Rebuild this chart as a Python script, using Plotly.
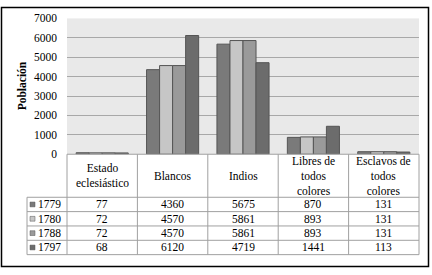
import plotly.graph_objects as go

categories = ["Estado eclesiástico", "Blancos", "Indios", "Libres de todos colores", "Esclavos de todos colores"]
header_labels = ["Estado<br>eclesiástico", "Blancos", "Indios", "Libres de<br>todos<br>colores", "Esclavos de<br>todos<br>colores"]
years = ["1779", "1780", "1788", "1797"]
v1779 = [77, 4360, 5675, 870, 131]
v1780 = [72, 4570, 5861, 893, 131]
v1788 = [72, 4570, 5861, 893, 131]
v1797 = [68, 6120, 4719, 1441, 113]
series = [v1779, v1780, v1788, v1797]
colors = ["#7a7a7a", "#c6c6c6", "#9a9a9a", "#6c6c6c"]
y_ticks = [0, 1000, 2000, 3000, 4000, 5000, 6000, 7000]

W, H = 432, 275
def px(x):
    return x / W
def py(y):
    return 1 - y / H

PL, PR, PT, PB = 67, 419, 13, 155
FONT = "Liberation Serif, DejaVu Serif, Times New Roman, serif"
FS = 11.5

fig = go.Figure()
for yr, vals, col in zip(years, series, colors):
    fig.add_trace(go.Bar(
        x=categories, y=vals, name=yr,
        marker=dict(color=col, line=dict(color="#555555", width=1)),
    ))

fig.update_layout(
    width=W, height=H, autosize=False,
    margin=dict(l=0, r=0, t=0, b=0),
    paper_bgcolor="white", plot_bgcolor="#e9e9e9",
    barmode="group", bargap=0.26, bargroupgap=0,
    showlegend=False,
    font=dict(family=FONT, size=FS, color="black"),
    xaxis=dict(domain=[px(PL), px(PR)], showticklabels=False, ticks="",
               showgrid=False, zeroline=False, showline=False, fixedrange=True),
    yaxis=dict(domain=[py(PB), py(PT)], range=[0, 7000], tickvals=y_ticks,
               showgrid=True, gridcolor="#a8a8a8", gridwidth=1, zeroline=False,
               showline=False, ticks="", ticklabelstandoff=9,
               tickfont=dict(family=FONT, size=FS, color="black"), fixedrange=True),
)

shapes = []
line_col = "#a0a0a0"
col_w = (PR - PL) / len(categories)
row_tops = [200, 215, 230, 245, 260]
for k in range(len(categories) + 1):
    x = PL + k * col_w
    shapes.append(dict(type="line", xref="paper", yref="paper", x0=px(x), x1=px(x),
                       y0=py(PB), y1=py(row_tops[-1]), line=dict(color=line_col, width=1)))
shapes.append(dict(type="line", xref="paper", yref="paper", x0=px(27), x1=px(27),
                   y0=py(row_tops[0]), y1=py(row_tops[-1]), line=dict(color=line_col, width=1)))
for y in row_tops:
    shapes.append(dict(type="line", xref="paper", yref="paper", x0=px(27), x1=px(PR),
                       y0=py(y), y1=py(y), line=dict(color=line_col, width=1)))
shapes.append(dict(type="line", xref="paper", yref="paper", x0=px(PL), x1=px(PR),
                   y0=py(PB), y1=py(PB), line=dict(color=line_col, width=1)))
for i, col in enumerate(colors):
    yc = (row_tops[i] + row_tops[i + 1]) / 2
    shapes.append(dict(type="rect", xref="paper", yref="paper", x0=px(30), x1=px(35),
                       y0=py(yc + 2.5), y1=py(yc - 2.5), fillcolor=col,
                       line=dict(color="#555555", width=0.5)))
shapes.append(dict(type="rect", xref="paper", yref="paper", x0=px(1.5), x1=px(428.5),
                   y0=py(272.5), y1=py(1.5), line=dict(color="black", width=1.5)))

ann = []
for j, lab in enumerate(header_labels):
    ann.append(dict(xref="paper", yref="paper", x=px(PL + (j + 0.5) * col_w), y=py((PB + row_tops[0]) / 2),
                    text=lab, showarrow=False, xanchor="center", yanchor="middle",
                    font=dict(family=FONT, size=FS)))
for i, (yr, vals) in enumerate(zip(years, series)):
    yc = (row_tops[i] + row_tops[i + 1]) / 2
    ann.append(dict(xref="paper", yref="paper", x=px(36), y=py(yc), text=yr, showarrow=False,
                    xanchor="left", yanchor="middle", font=dict(family=FONT, size=FS)))
    for j, v in enumerate(vals):
        ann.append(dict(xref="paper", yref="paper", x=px(PL + (j + 0.5) * col_w), y=py(yc),
                        text=str(v), showarrow=False, xanchor="center", yanchor="middle",
                        font=dict(family=FONT, size=FS)))
ann.append(dict(xref="paper", yref="paper", x=px(22), y=py((PT + PB) / 2), text="<b>Población</b>",
                textangle=-90, showarrow=False, xanchor="center", yanchor="middle",
                font=dict(family=FONT, size=FS)))

fig.update_layout(shapes=shapes, annotations=ann)
fig.write_html("out.html", config={"displayModeBar": False},
               post_script="document.body.style.margin='0';")
